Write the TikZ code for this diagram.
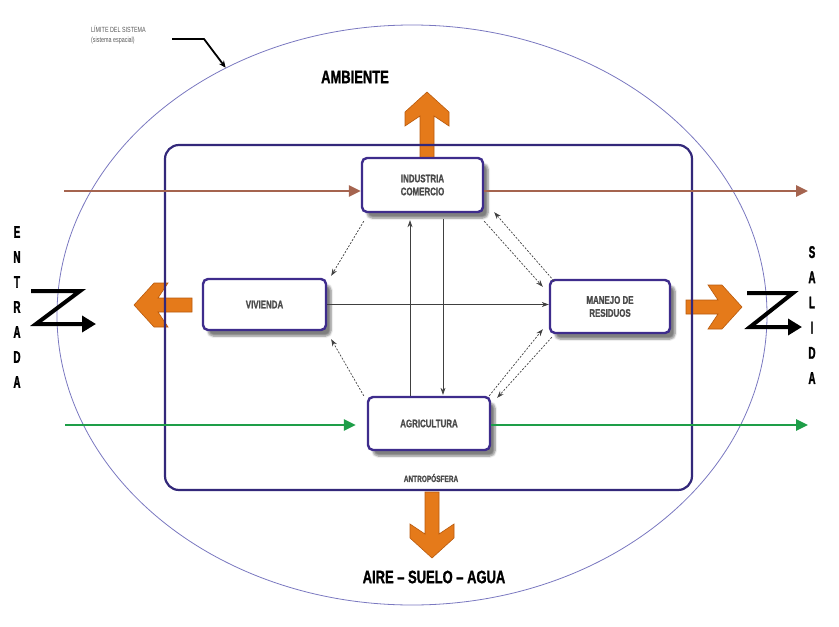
\documentclass[tikz,border=0pt]{standalone}
\usepackage{fontspec}
\setmainfont{Liberation Sans}
\newfontfamily\cond[FakeStretch=0.72, BoldFeatures={FakeBold=1.2}]{Liberation Sans}
\newfontfamily\narrowheavy[FakeStretch=0.58, BoldFeatures={FakeBold=1.5}]{Liberation Sans}
\usetikzlibrary{arrows.meta,shapes.geometric,shadows,shadows.blur}

\definecolor{framecol}{HTML}{33287A}
\definecolor{boxline}{HTML}{3E2C8C}
\definecolor{limline}{HTML}{7A78C0}
\definecolor{brownline}{HTML}{A5644F}
\definecolor{greenline}{HTML}{1E9E48}
\definecolor{orangefill}{HTML}{E57A1A}
\definecolor{orangeedge}{HTML}{B85A0E}
\definecolor{labelgray}{HTML}{4A4A4A}

\tikzset{
  pics/blockarrow/.style={code={
    \filldraw[fill=orangefill, draw=orangeedge, line width=0.6pt, line join=miter]
      (0,-7) -- (#1-24,-7) -- (#1-34,-22) -- (#1-20,-22) -- (#1,0)
      -- (#1-20,22) -- (#1-34,22) -- (#1-24,7) -- (0,7) -- cycle;}},
  sector/.style={draw=boxline, line width=2.4pt, fill=white, rounded corners=5pt,
    inner sep=0pt, align=center, text=labelgray,
    font=\cond\bfseries\fontsize{11}{13}\selectfont,
    blur shadow={shadow xshift=5pt, shadow yshift=-6pt, shadow opacity=50, shadow blur steps=6}},
  link/.style={draw=black!75, line width=0.7pt, -{Stealth[length=7pt,width=5pt]}},
  dlink/.style={link, dash pattern=on 2pt off 1.5pt},
  flowbrown/.style={draw=brownline, line width=2.6pt, -{Triangle[length=12pt,width=11pt]}},
  flowgreen/.style={draw=greenline, line width=2.6pt, -{Triangle[length=12pt,width=11pt]}},
  zarrow/.style={draw=black, line width=4pt, line join=miter, -{Triangle[length=14pt,width=16pt]}},
  bigtitle/.style={font=\cond\bfseries\fontsize{#1}{#1}\selectfont, inner sep=0pt},
}

\begin{document}
\begin{tikzpicture}[x=1pt,y=-1pt]
\useasboundingbox (0,0) rectangle (839,627);

% system boundary
\node[draw=limline, line width=0.8pt, ellipse, minimum width=710pt, minimum height=580pt, inner sep=0pt] (lim) at (412,315) {};
\node[anchor=west, font=\cond\fontsize{7.5}{9.5}\selectfont, text=black!65, align=left, inner sep=0pt] (limtxt) at (91,35) {LÍMITE DEL SISTEMA\\(sistema espacial)};
\coordinate (limstart) at (172,39);
\coordinate (limbend) at (204,39);
\draw[line width=1.8pt, line join=miter, -{Stealth[length=7pt,width=6pt]}] (limstart) -- (limbend) -- (lim.127.8);

% through-flows
\coordinate (bin) at (64,191);
\coordinate (bout) at (808,191);
\coordinate (gin) at (65,425);
\coordinate (gout) at (808,425);

% exchange arrows with the environment
\pic[rotate=90] at (427,162) {blockarrow=70};
\pic[rotate=-90] at (432,492) {blockarrow=66};
\pic[rotate=180] at (192,305) {blockarrow=58};
\pic at (686,307) {blockarrow=56};

% anthroposphere frame
\node[draw=framecol, line width=2.2pt, rounded corners=14pt, minimum width=527pt, minimum height=345pt, inner sep=0pt] (antrofr) at (428.5,317.5) {};

% sectors
\node[sector, minimum width=121pt, minimum height=54pt] (ind) at (422.5,185) {INDUSTRIA\\COMERCIO};
\node[sector, minimum width=123pt, minimum height=51pt] (viv) at (264.5,304.5) {VIVIENDA};
\node[sector, minimum width=120pt, minimum height=53pt] (man) at (610,306.5) {MANEJO DE\\RESIDUOS};
\node[sector, minimum width=122pt, minimum height=53pt] (agr) at (429,423.5) {AGRICULTURA};

\draw[flowbrown] (bin) -- (bin -| ind.west);
\draw[flowbrown] (bin -| ind.east) -- (bout);
\draw[flowgreen, shorten >=11pt] (gin) -- (gin -| agr.west);
\draw[flowgreen] (gin -| agr.east) -- (gout);

% links between sectors
\draw[dlink] ([shift={(3,8)}]ind.south west) -- ([shift={(4,-2)}]viv.north east);
\draw[dlink] ([shift={(-3,0)}]agr.north west) -- ([shift={(4,8)}]viv.south east);
\draw[link] ([shift={(-19,0)}]agr.north) -- ([shift={(-12.5,7)}]ind.south);
\draw[link] ([shift={(20.5,6)}]ind.south) -- ([shift={(14,-1)}]agr.north);
\draw[link] (viv.east) -- (viv.east -| man.west);
\draw[dlink] ([shift={(0,8)}]ind.south east) -- ([shift={(-6,8)}]man.north west);
\draw[dlink] ([shift={(5,2)}]man.north west) -- ([shift={(10,-1)}]ind.south east);
\draw[dlink] ([shift={(-2,0)}]agr.north east) -- ([shift={(-6,-5)}]man.south west);
\draw[dlink] ([shift={(3,3)}]man.south west) -- ([shift={(6,2)}]agr.north east);

% input / output symbols
\coordinate (zin1) at (31,291);
\coordinate (zin2) at (80,291);
\coordinate (zin3) at (36,324);
\coordinate (zin4) at (96,324);
\draw[zarrow] (zin1) -- (zin2) -- (zin3) -- (zin4);
\coordinate (zout1) at (747,293);
\coordinate (zout2) at (793,293);
\coordinate (zout3) at (750,327);
\coordinate (zout4) at (802,327);
\draw[zarrow] (zout1) -- (zout2) -- (zout3) -- (zout4);

% labels
\node[bigtitle=18] (amb) at (355,77) {AMBIENTE};
\node[bigtitle=18] (asa) at (434,577) {AIRE – SUELO – AGUA};
\node[font=\cond\bfseries\fontsize{9}{9}\selectfont, text=labelgray, inner sep=0pt] (antro) at (431,478) {ANTROPÓSFERA};
\node[align=center, inner sep=0pt, font=\narrowheavy\bfseries\fontsize{17}{25}\selectfont] (ent) at (17,307) {E\\N\\T\\R\\A\\D\\A};
\node[align=center, inner sep=0pt, font=\narrowheavy\bfseries\fontsize{17}{25.2}\selectfont] (sal) at (812,315) {S\\A\\L\\I\\D\\A};
\end{tikzpicture}
\end{document}
